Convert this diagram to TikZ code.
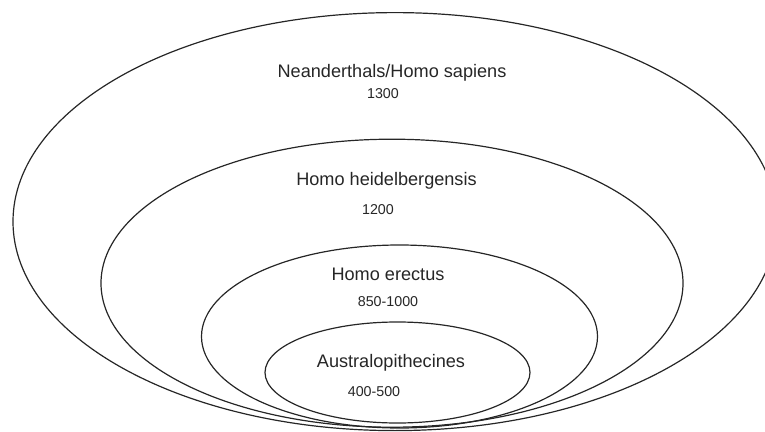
\documentclass[tikz,border=0pt]{standalone}
\usepackage{fontspec}
\setmainfont{Liberation Sans}
\begin{document}
\begin{tikzpicture}[x=0.75pt,y=-0.75pt,
  ring/.style={draw=black!85,line width=0.9pt},
  title/.style={font=\fontsize{13.6}{16}\selectfont,inner sep=0pt,text=black!85},
  num/.style={font=\fontsize{10.7}{13}\selectfont,inner sep=0pt,text=black!85}]
\useasboundingbox (0,0) rectangle (765,432);
\begin{scope}
\clip (0,0) rectangle (765,432);
\draw[ring] (395,221.6) ellipse [x radius=382, y radius=209];
\draw[ring] (392,283.2) ellipse [x radius=291, y radius=144];
\draw[ring] (399.5,336.5) ellipse [x radius=198, y radius=91.5];
\draw[ring] (397.5,372.5) ellipse [x radius=132.5, y radius=50.5];
\end{scope}
\node[title] (t1) at (392,73) {Neanderthals/Homo sapiens};
\node[num] (n1) at (383,94) {1300};
\node[title] (t2) at (386.5,181) {Homo heidelbergensis};
\node[num] (n2) at (378,210) {1200};
\node[title] (t3) at (388,274) {Homo erectus};
\node[num] (n3) at (388,302) {850-1000};
\node[title] (t4) at (391,363) {Australopithecines};
\node[num] (n4) at (374,392) {400-500};
\end{tikzpicture}
\end{document}
